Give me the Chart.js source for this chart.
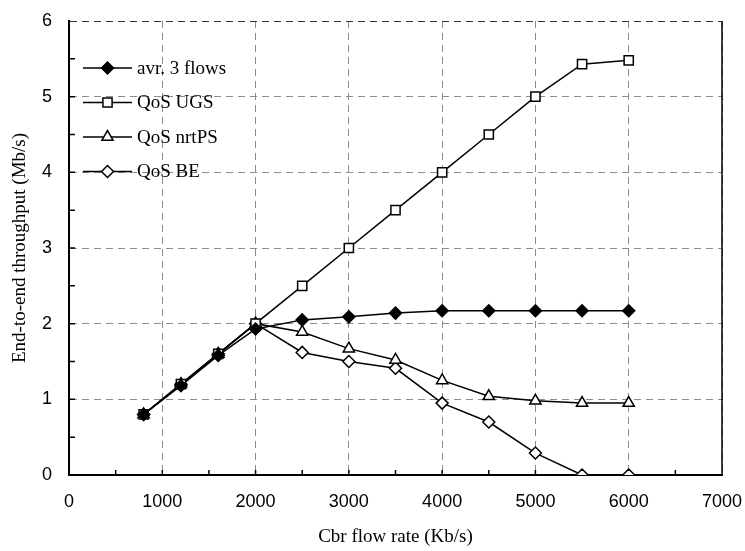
<!DOCTYPE html>
<html>
<head>
<meta charset="utf-8">
<script src="https://cdn.jsdelivr.net/npm/chart.js@4/dist/chart.umd.min.js"></script>
<style>
    html, body { margin: 0; padding: 0; background: #fff; }
    #wrap { width: 745px; height: 551px; position: relative; }
</style>
</head>
<body>
<div id="wrap"><canvas id="throughputChart"></canvas></div>
<script>
// Cbr flow rate (Kb/s) and end-to-end throughput (Mb/s)
const flowRates = [800, 1200, 1600, 2000, 2500, 3000, 3500, 4000, 4500, 5000, 5500, 6000];
const avgFlows  = [0.80, 1.18, 1.58, 1.93, 2.05, 2.09, 2.14, 2.17, 2.17, 2.17, 2.17, 2.17];
const qosUGS    = [0.80, 1.20, 1.60, 2.00, 2.50, 3.00, 3.50, 4.00, 4.50, 5.00, 5.43, 5.48];
const qosNrtPS  = [0.80, 1.20, 1.60, 2.00, 1.89, 1.67, 1.52, 1.25, 1.04, 0.98, 0.95, 0.95];
const qosBE     = [0.80, 1.20, 1.60, 2.00, 1.62, 1.50, 1.41, 0.95, 0.70, 0.29, 0.00, 0.00];

const seriesNames = ['avr. 3 flows', 'QoS UGS', 'QoS nrtPS', 'QoS BE'];
const seriesData = [avgFlows, qosUGS, qosNrtPS, qosBE];
const markers = [
    { style: 'rectRot', radius: 6, fill: '#000' },
    { style: 'rect', radius: 6.5, fill: '#fff' },
    { style: 'triangle', radius: 6.5, fill: '#fff' },
    { style: 'rectRot', radius: 6, fill: '#fff' }
];

const toPoints = values => flowRates.map((x, i) => ({ x: x, y: values[i] }));

const datasets = seriesData.map((values, i) => ({
    label: seriesNames[i],
    data: toPoints(values),
    borderColor: '#000',
    borderWidth: 1.5,
    pointStyle: markers[i].style,
    pointRadius: markers[i].radius,
    pointBackgroundColor: markers[i].fill,
    pointBorderColor: '#000',
    pointBorderWidth: 1.5,
    tension: 0
}));

// Draw a marker by hand if the helpers aren't exposed
function drawMarker(ctx, m, x, y) {
    if (Chart.helpers && Chart.helpers.drawPoint) {
        Chart.helpers.drawPoint(ctx, { pointStyle: m.style, radius: m.radius, rotation: 0, borderWidth: 1.5 }, x, y);
        return;
    }
    const r = m.radius;
    ctx.beginPath();
    if (m.style === 'rect') {
        const s = r * Math.SQRT1_2;
        ctx.rect(x - s, y - s, 2 * s, 2 * s);
    } else if (m.style === 'triangle') {
        ctx.moveTo(x, y - r);
        ctx.lineTo(x + r * 0.866, y + r * 0.5);
        ctx.lineTo(x - r * 0.866, y + r * 0.5);
        ctx.closePath();
    } else {
        ctx.moveTo(x, y - r);
        ctx.lineTo(x + r, y);
        ctx.lineTo(x, y + r);
        ctx.lineTo(x - r, y);
        ctx.closePath();
    }
    ctx.fill();
    ctx.stroke();
}

// inner tick marks, right frame and the legend inside the plot
const framePlugin = {
    id: 'frame',
    beforeDatasetsDraw(chart) {
        const { ctx, chartArea: a, scales } = chart;
        ctx.save();
        ctx.strokeStyle = '#000';
        ctx.lineWidth = 1.5;
        ctx.beginPath();
        ctx.moveTo(a.right, a.top);
        ctx.lineTo(a.right, a.bottom);
        ctx.stroke();

        ctx.beginPath();
        for (let v = 500; v < 7000; v += 500) {
            const px = scales.x.getPixelForValue(v);
            ctx.moveTo(px, a.bottom);
            ctx.lineTo(px, a.bottom - 5);
        }
        for (let v = 0.5; v < 6; v += 0.5) {
            const py = scales.y.getPixelForValue(v);
            ctx.moveTo(a.left, py);
            ctx.lineTo(a.left + 6, py);
        }
        ctx.stroke();
        ctx.restore();
    },
    afterDraw(chart) {
        const { ctx, chartArea: a } = chart;
        ctx.save();
        const x0 = a.left + 14;
        seriesNames.forEach((name, i) => {
            const y = a.top + 47 + i * 34.5;
            ctx.strokeStyle = '#000';
            ctx.lineWidth = 1.5;
            ctx.beginPath();
            ctx.moveTo(x0, y);
            ctx.lineTo(x0 + 49, y);
            ctx.stroke();
            ctx.fillStyle = markers[i].fill;
            drawMarker(ctx, markers[i], x0 + 24.5, y);
            ctx.fillStyle = '#000';
            ctx.font = '19px "Liberation Serif", "Times New Roman", serif';
            ctx.textBaseline = 'middle';
            ctx.fillText(name, x0 + 54, y + 1);
        });
        ctx.restore();
    }
};

const tickFont = { family: '"Liberation Sans", Arial, sans-serif', size: 18 };
const titleFont = { family: '"Liberation Serif", "Times New Roman", serif', size: 19 };
const hidden = 'rgba(0,0,0,0)';

new Chart(document.getElementById('throughputChart'), {
    type: 'line',
    data: { datasets: datasets },
    options: {
        responsive: true,
        maintainAspectRatio: false,
        animation: false,
        layout: { padding: { top: 21, right: 23, left: 0, bottom: 0 } },
        plugins: {
            legend: { display: false },
            tooltip: { enabled: false }
        },
        scales: {
            x: {
                type: 'linear',
                min: 0,
                max: 7000,
                afterFit: scale => { scale.height = 76; },
                ticks: {
                    stepSize: 500,
                    padding: 0,
                    color: '#000',
                    font: tickFont,
                    maxRotation: 0,
                    autoSkip: false,
                    callback: v => (v % 1000 === 0 ? v : '')
                },
                grid: {
                    drawTicks: true,
                    tickLength: 16,
                    tickColor: hidden,
                    lineWidth: 1,
                    color: ctx => (ctx.tick && ctx.tick.value % 1000 === 0 ? '#8c8c8c' : hidden)
                },
                border: { color: '#000', width: 2, dash: [7, 5] },
                title: {
                    display: true,
                    text: 'Cbr flow rate (Kb/s)',
                    color: '#000',
                    font: titleFont,
                    padding: { top: 0, bottom: 3 }
                }
            },
            y: {
                min: 0,
                max: 6,
                afterFit: scale => { scale.width = 69; },
                ticks: {
                    stepSize: 0.5,
                    padding: 0,
                    color: '#000',
                    font: tickFont,
                    autoSkip: false,
                    callback: v => (Number.isInteger(v) ? v : '')
                },
                grid: {
                    drawTicks: true,
                    tickLength: 17,
                    tickColor: hidden,
                    lineWidth: 1,
                    color: ctx => {
                        if (!ctx.tick || !Number.isInteger(ctx.tick.value)) return hidden;
                        return ctx.tick.value === 6 ? '#333' : '#8c8c8c';
                    }
                },
                border: { color: '#000', width: 2, dash: [7, 5] },
                title: {
                    display: true,
                    text: 'End-to-end throughput (Mb/s)',
                    color: '#000',
                    font: titleFont,
                    padding: { top: 9, bottom: 0 }
                }
            }
        }
    },
    plugins: [framePlugin]
});
</script>
</body>
</html>
